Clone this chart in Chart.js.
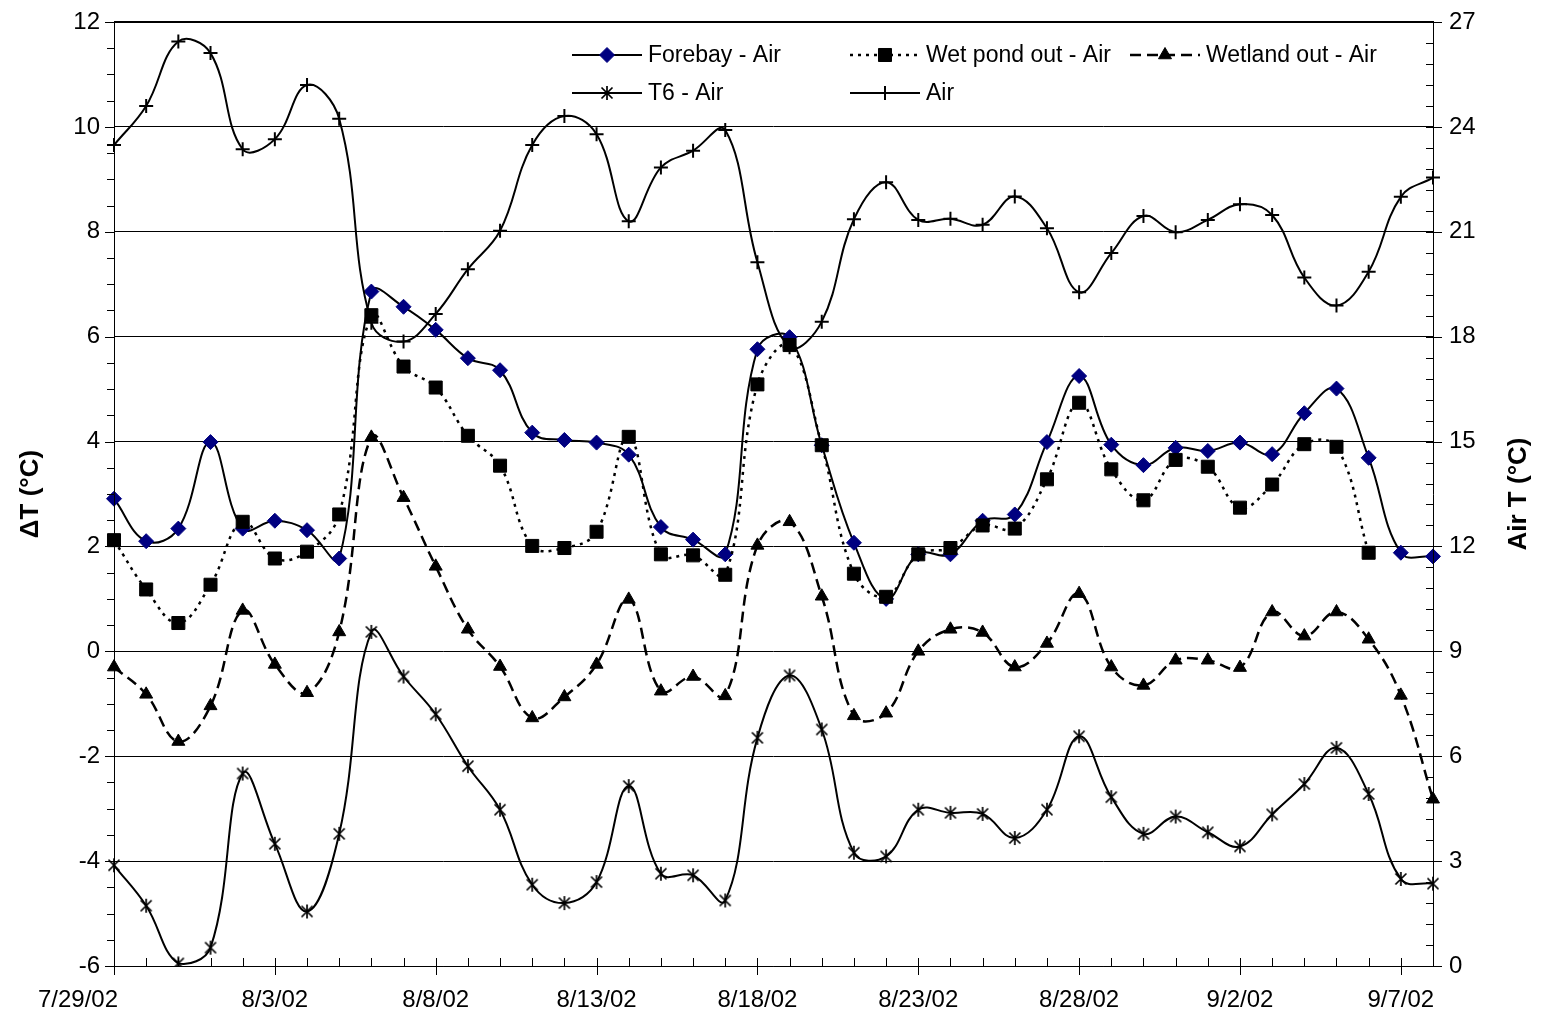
<!DOCTYPE html>
<html>
<head>
<meta charset="utf-8">
<script src="https://cdn.jsdelivr.net/npm/chart.js@4/dist/chart.umd.min.js"></script>
<style>
  html, body { margin: 0; padding: 0; background: #fff; }
  #wrap { width: 1543px; height: 1029px; }
</style>
</head>
<body>
<div id="wrap"><canvas id="chart" width="1543" height="1029"></canvas></div>
<script>
// Daily observations, 7/29/02 – 9/8/02
const dates = [
  '7/29/02','7/30/02','7/31/02','8/1/02','8/2/02','8/3/02','8/4/02','8/5/02','8/6/02','8/7/02',
  '8/8/02','8/9/02','8/10/02','8/11/02','8/12/02','8/13/02','8/14/02','8/15/02','8/16/02','8/17/02',
  '8/18/02','8/19/02','8/20/02','8/21/02','8/22/02','8/23/02','8/24/02','8/25/02','8/26/02','8/27/02',
  '8/28/02','8/29/02','8/30/02','8/31/02','9/1/02','9/2/02','9/3/02','9/4/02','9/5/02','9/6/02',
  '9/7/02','9/8/02'
];

// Temperature differences relative to air (°C)
const forebayAir = [2.91,2.10,2.34,3.99,2.34,2.49,2.31,1.77,6.86,6.57,
  6.13,5.59,5.36,4.17,4.03,3.98,3.75,2.37,2.13,1.85,
  5.76,5.99,3.93,2.07,1.00,1.85,1.85,2.49,2.61,3.99,
  5.25,3.94,3.55,3.88,3.82,3.98,3.76,4.54,5.01,3.69,
  1.88,1.81];
const wetPondAir = [2.12,1.18,0.54,1.27,2.47,1.77,1.90,2.61,6.41,5.43,
  5.03,4.11,3.54,2.01,1.97,2.28,4.09,1.85,1.83,1.46,
  5.09,5.84,3.93,1.48,1.04,1.85,1.97,2.40,2.34,3.28,
  4.74,3.47,2.88,3.65,3.52,2.74,3.18,3.95,3.90,1.88,
  null,null];
const wetlandAir = [-0.30,-0.82,-1.72,-1.04,0.78,-0.25,-0.79,0.37,4.08,2.93,
  1.62,0.42,-0.29,-1.27,-0.87,-0.25,0.99,-0.76,-0.48,-0.85,
  2.02,2.47,1.05,-1.23,-1.18,0.00,0.42,0.36,-0.30,0.15,
  1.10,-0.30,-0.65,-0.17,-0.17,-0.31,0.75,0.29,0.75,0.23,
  -0.84,-2.82];
const t6Air = [-4.08,-4.85,-5.95,-5.65,-2.33,-3.67,-4.96,-3.48,0.37,-0.48,
  -1.20,-2.19,-3.02,-4.45,-4.80,-4.40,-2.57,-4.24,-4.27,-4.75,
  -1.65,-0.46,-1.49,-3.84,-3.91,-3.02,-3.08,-3.10,-3.56,-3.02,
  -1.62,-2.78,-3.48,-3.15,-3.45,-3.72,-3.11,-2.53,-1.84,-2.72,
  -4.34,-4.43];
// Air temperature (°C), right axis
const airT = [23.48,24.60,26.44,26.11,23.36,23.65,25.20,24.23,18.40,17.86,
  18.65,19.93,21.03,23.48,24.31,23.79,21.30,22.84,23.32,23.91,
  20.13,17.70,18.43,21.36,22.42,21.34,21.37,21.20,22.01,21.10,
  19.27,20.39,21.45,20.99,21.34,21.79,21.48,19.69,18.89,19.86,
  22.00,22.55];

const seriesNames = ['Forebay - Air', 'Wet pond out - Air', 'Wetland out - Air', 'T6 - Air', 'Air'];
const leftTitle = 'ΔT (°C)';
const rightTitle = 'Air T (°C)';

const FONT = "'Liberation Sans', Arial, sans-serif";
const TENSION = 0.4;

// Asterisk marker: an X crossed by a vertical bar
const asterisk = (() => {
  const c = document.createElement('canvas');
  c.width = 16; c.height = 16;
  const g = c.getContext('2d');
  g.strokeStyle = '#000';
  g.lineWidth = 1.7;
  g.beginPath();
  g.moveTo(2.5, 2.5); g.lineTo(13.5, 13.5);
  g.moveTo(13.5, 2.5); g.lineTo(2.5, 13.5);
  g.moveTo(8, 1); g.lineTo(8, 15);
  g.stroke();
  return c;
})();

// Tick marks, date labels, axis lines and the plot frame
const axisMarks = {
  id: 'axisMarks',
  afterDatasetsDraw(chart) {
    const { ctx, chartArea: a, scales: { x, y, y2 } } = chart;
    ctx.save();
    ctx.strokeStyle = '#000';
    ctx.lineWidth = 1;
    ctx.beginPath();
    // category ticks: short inside, long crossing at labelled days
    for (let i = 0; i < dates.length; i++) {
      const px = Math.round(x.getPixelForValue(i)) + 0.5;
      const major = i % 5 === 0;
      ctx.moveTo(px, a.bottom - 8);
      ctx.lineTo(px, major ? a.bottom + 9 : a.bottom);
    }
    // left axis: minor every 0.5, outside
    for (let k = 0; k <= 36; k++) {
      const v = -6 + k * 0.5;
      const py = Math.round(y.getPixelForValue(v)) + 0.5;
      ctx.moveTo(a.left - (k % 4 === 0 ? 9 : 7), py);
      ctx.lineTo(a.left, py);
    }
    // right axis: minor every 0.6, inside; majors cross
    for (let k = 0; k <= 45; k++) {
      const v = k * 0.6;
      const py = Math.round(y2.getPixelForValue(v)) + 0.5;
      ctx.moveTo(a.right - 7, py);
      ctx.lineTo(k % 5 === 0 ? a.right + 9 : a.right, py);
    }
    ctx.stroke();
    // axis lines
    ctx.beginPath();
    ctx.moveTo(Math.round(a.left) + 0.5, a.top);
    ctx.lineTo(Math.round(a.left) + 0.5, a.bottom + 0.5);
    ctx.moveTo(a.left, Math.round(a.bottom) + 0.5);
    ctx.lineTo(a.right, Math.round(a.bottom) + 0.5);
    ctx.moveTo(Math.round(a.right) + 0.5, a.top);
    ctx.lineTo(Math.round(a.right) + 0.5, a.bottom + 0.5);
    ctx.stroke();
    ctx.lineWidth = 2;
    ctx.beginPath();
    ctx.moveTo(a.left, Math.round(a.top));
    ctx.lineTo(a.right + 1, Math.round(a.top));
    ctx.stroke();
    // date labels every fifth day; the first one is pulled clear of the value labels
    ctx.font = '24px ' + FONT;
    ctx.fillStyle = '#000';
    ctx.textAlign = 'center';
    ctx.textBaseline = 'middle';
    for (let i = 0; i < dates.length; i += 5) {
      const px = x.getPixelForValue(i);
      ctx.fillText(dates[i], i === 0 ? px - 36 : px, a.bottom + 34);
    }
    ctx.restore();
  }
};

// Right-hand axis title, reading bottom to top
const rightAxisTitle = {
  id: 'rightAxisTitle',
  afterDraw(chart) {
    const { ctx, chartArea: a } = chart;
    ctx.save();
    ctx.translate(1519, (a.top + a.bottom) / 2);
    ctx.rotate(-Math.PI / 2);
    ctx.font = 'bold 26px ' + FONT;
    ctx.fillStyle = '#000';
    ctx.textAlign = 'center';
    ctx.textBaseline = 'middle';
    ctx.fillText(rightTitle, 0, 0);
    ctx.restore();
  }
};

// Two-row key inside the plot, each entry a line sample with its marker
const keyBox = {
  id: 'keyBox',
  afterDraw(chart) {
    const { ctx } = chart;
    const cols = [572, 850, 1130];
    const rows = [55, 93];
    const place = [[0, 0], [1, 0], [2, 0], [0, 1], [1, 1]];
    ctx.save();
    chart.data.datasets.forEach((ds, i) => {
      const x0 = cols[place[i][0]];
      const yy = rows[place[i][1]];
      ctx.strokeStyle = ds.borderColor;
      ctx.lineWidth = ds.borderWidth;
      ctx.setLineDash(ds.borderDash || []);
      ctx.beginPath();
      ctx.moveTo(x0, yy);
      ctx.lineTo(x0 + 70, yy);
      ctx.stroke();
      ctx.setLineDash([]);
      ctx.fillStyle = ds.pointBackgroundColor;
      ctx.strokeStyle = ds.pointBorderColor;
      ctx.lineWidth = ds.pointBorderWidth;
      Chart.helpers.drawPoint(ctx, {
        pointStyle: ds.pointStyle, radius: ds.pointRadius, rotation: 0, borderWidth: ds.pointBorderWidth
      }, x0 + 35, yy);
      ctx.fillStyle = '#000';
      ctx.font = '23px ' + FONT;
      ctx.textAlign = 'left';
      ctx.textBaseline = 'middle';
      ctx.fillText(ds.label, x0 + 76, yy + 1);
    });
    ctx.restore();
  }
};

const line = (extra) => Object.assign({
  borderColor: '#000', borderWidth: 2, tension: TENSION, fill: false,
  pointBackgroundColor: '#000', pointBorderColor: '#000', pointBorderWidth: 1,
  yAxisID: 'y', spanGaps: false
}, extra);

// keep the plot box fixed regardless of label overhang
const fixV = (w) => (s) => { s.width = w; s.paddingTop = 0; s.paddingBottom = 0; };

new Chart(document.getElementById('chart'), {
  type: 'line',
  data: {
    labels: dates,
    datasets: [
      line({ label: seriesNames[0], data: forebayAir, order: 5, pointStyle: 'rectRot', pointRadius: 7.5,
             pointBackgroundColor: '#000080', pointBorderColor: '#000080' }),
      line({ label: seriesNames[1], data: wetPondAir, order: 4, borderDash: [3, 5], borderWidth: 2.5,
             pointStyle: 'rect', pointRadius: 9.2 }),
      line({ label: seriesNames[2], data: wetlandAir, order: 3, borderDash: [11, 6], borderWidth: 2.5,
             pointStyle: 'triangle', pointRadius: 7.5 }),
      line({ label: seriesNames[3], data: t6Air, order: 2, pointStyle: asterisk, pointRadius: 8 }),
      line({ label: seriesNames[4], data: airT, order: 1, yAxisID: 'y2', pointStyle: 'cross',
             pointRadius: 7, pointBorderWidth: 2 })
    ]
  },
  options: {
    responsive: false,
    animation: false,
    events: [],
    layout: { padding: { top: 22, left: 0, right: 0, bottom: 0 }, autoPadding: false },
    plugins: { legend: { display: false }, tooltip: { enabled: false } },
    scales: {
      x: {
        type: 'category',
        offset: false,
        grid: { display: false, drawTicks: false },
        border: { display: false },
        ticks: { display: false, autoSkip: false, maxRotation: 0 },
        afterFit: (s) => { s.height = 63; s.paddingLeft = 0; s.paddingRight = 0; }
      },
      y: {
        position: 'left', min: -6, max: 12,
        grid: { color: '#000', lineWidth: 1, drawTicks: false },
        border: { display: false },
        ticks: { stepSize: 2, padding: 14, color: '#000', font: { family: FONT, size: 24 } },
        title: { display: true, text: leftTitle, color: '#000', padding: { top: 15 },
                 font: { family: FONT, size: 26, weight: 'bold' } },
        afterFit: fixV(114)
      },
      y2: {
        position: 'right', min: 0, max: 27,
        grid: { drawOnChartArea: false, drawTicks: false },
        border: { display: false },
        ticks: { stepSize: 3, padding: 16, color: '#000', font: { family: FONT, size: 24 } },
        afterFit: fixV(110)
      }
    }
  },
  plugins: [axisMarks, rightAxisTitle, keyBox]
});
</script>
</body>
</html>
